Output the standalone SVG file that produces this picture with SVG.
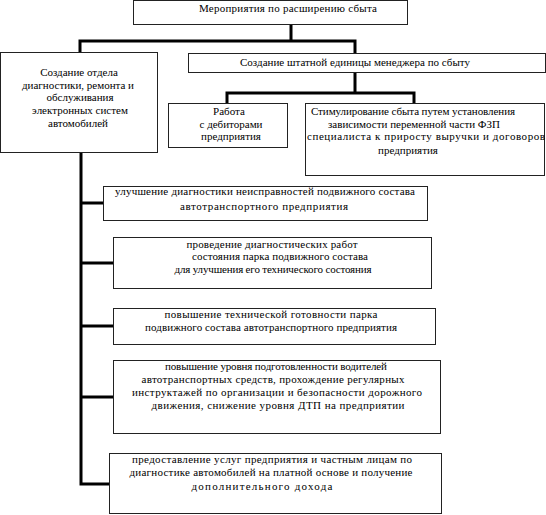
<svg xmlns="http://www.w3.org/2000/svg" width="546" height="515" viewBox="0 0 546 515">
<style>
.box{fill:#fff;stroke:#222;stroke-width:1}
.t{font-size:11px;fill:#000;text-anchor:middle}
.c{fill:none;stroke:#000;stroke-width:3;stroke-linecap:square}
</style>
<rect width="546" height="515" fill="#fff"/>
<g id="connectors">
<path class="c" d="M291 24V41M80 52V41H355V53M355 72V93M227 103V93H414V103"/>
<path class="c" d="M81 152V484H108M81 203H102M81 263H112M81 326H112M81 397H112"/>
</g>
<g font-family="'Liberation Serif', 'Times New Roman', serif">
<g id="n-top">
<rect class="box" x="133.5" y="0.5" width="274" height="24"/>
<text class="t" x="288" y="12" textLength="178" lengthAdjust="spacing">Мероприятия  по расширению сбыта</text>
</g>
<g id="n-left">
<rect class="box" x="0.5" y="52.5" width="157" height="100"/>
<text class="t" x="79" y="76">Создание отдела</text>
<text class="t" x="78" y="88.5">диагностики, ремонта и</text>
<text class="t" x="80" y="101">обслуживания</text>
<text class="t" x="80" y="114">электронных систем</text>
<text class="t" x="78" y="127">автомобилей</text>
</g>
<g id="n-manager">
<rect class="box" x="188.5" y="53.5" width="357" height="19"/>
<text class="t" x="355" y="66" textLength="230" lengthAdjust="spacing">Создание штатной единицы менеджера по сбыту</text>
</g>
<g id="n-work">
<rect class="box" x="168.5" y="103.5" width="119" height="44"/>
<text class="t" x="229" y="115">Работа</text>
<text class="t" x="231" y="127.5">с дебиторами</text>
<text class="t" x="231" y="140">предприятия</text>
</g>
<g id="n-stim">
<rect class="box" x="305.5" y="103.5" width="239" height="72"/>
<text class="t" x="413" y="115" textLength="204" lengthAdjust="spacing">Стимулирование сбыта путем установления</text>
<text class="t" x="414" y="127.5" textLength="172" lengthAdjust="spacing">зависимости переменной части ФЗП</text>
<text class="t" x="426" y="140" textLength="238" lengthAdjust="spacing">специалиста к приросту выручки и договоров</text>
<text class="t" x="408" y="154">предприятия</text>
</g>
<g id="n-b1">
<rect class="box" x="103.5" y="186.5" width="324" height="34"/>
<text class="t" x="265" y="195" textLength="300" lengthAdjust="spacing">улучшение диагностики неисправностей подвижного состава</text>
<text class="t" x="264" y="210" textLength="168" lengthAdjust="spacing">автотранспортного предприятия</text>
</g>
<g id="n-b2">
<rect class="box" x="113.5" y="237.5" width="318" height="51"/>
<text class="t" x="272" y="248" textLength="171" lengthAdjust="spacing">проведение диагностических работ</text>
<text class="t" x="280" y="260" textLength="176" lengthAdjust="spacing">состояния парка  подвижного состава</text>
<text class="t" x="273" y="273" textLength="197" lengthAdjust="spacing">для улучшения его технического состояния</text>
</g>
<g id="n-b3">
<rect class="box" x="113.5" y="308.5" width="322" height="36"/>
<text class="t" x="271" y="318" textLength="213" lengthAdjust="spacing">повышение технической готовности парка</text>
<text class="t" x="271" y="331" textLength="252" lengthAdjust="spacing">подвижного состава автотранспортного предприятия</text>
</g>
<g id="n-b4">
<rect class="box" x="113.5" y="360.5" width="327" height="73"/>
<text class="t" x="276" y="370" textLength="222" lengthAdjust="spacing">повышение уровня подготовленности водителей</text>
<text class="t" x="273" y="383" textLength="263" lengthAdjust="spacing">автотранспортных средств, прохождение регулярных</text>
<text class="t" x="277" y="396" textLength="290" lengthAdjust="spacing">инструктажей по организации и безопасности дорожного</text>
<text class="t" x="278" y="409" textLength="253" lengthAdjust="spacing">движения, снижение уровня ДТП на предприятии</text>
</g>
<g id="n-b5">
<rect class="box" x="109.5" y="453.5" width="332" height="60"/>
<text class="t" x="272" y="463" textLength="280" lengthAdjust="spacing">предоставление услуг предприятия и частным лицам по</text>
<text class="t" x="271" y="476" textLength="283" lengthAdjust="spacing">диагностике автомобилей на платной основе и получение</text>
<text class="t" x="262" y="490" textLength="141" lengthAdjust="spacing">дополнительного дохода</text>
</g>
</g>
</svg>
